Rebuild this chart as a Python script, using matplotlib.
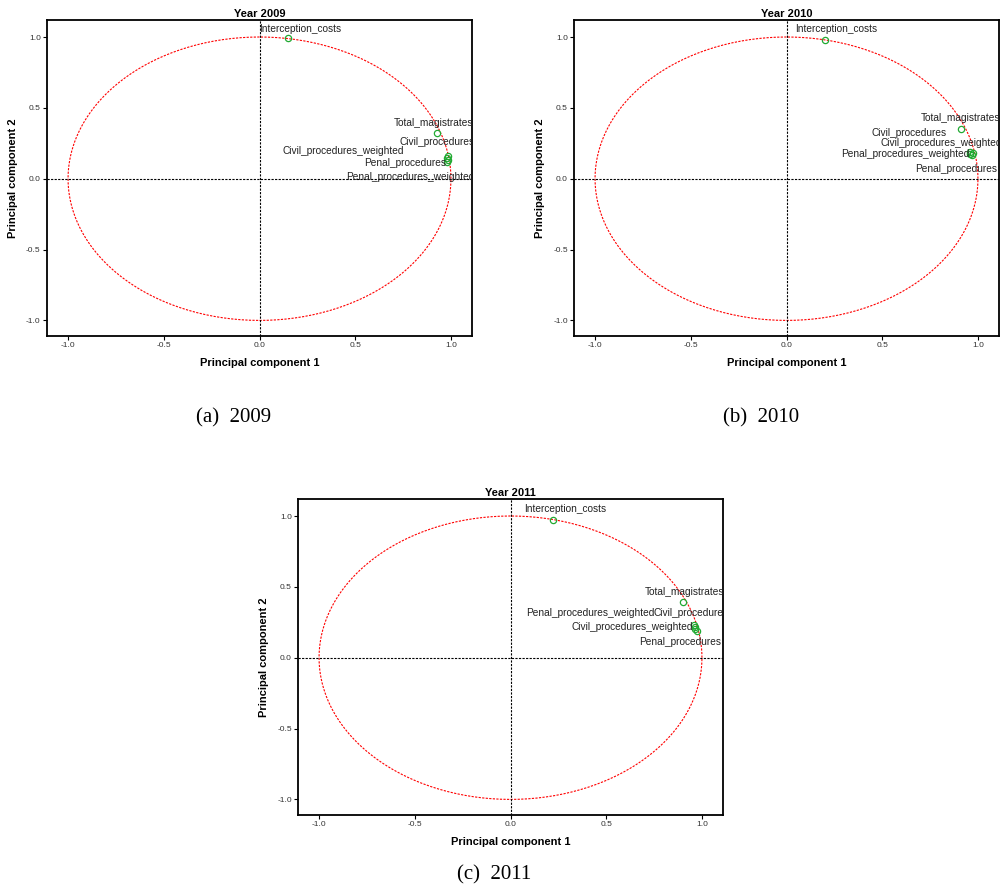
#!/usr/bin/env python3

import matplotlib
matplotlib.use("Agg")
import matplotlib.pyplot as plt
import numpy as np

plt.rcParams['font.family'] = ['Liberation Sans', 'DejaVu Sans']

variables = ["Interception_costs", "Total_magistrates", "Civil_procedures",
             "Civil_procedures_weighted", "Penal_procedures", "Penal_procedures_weighted"]
years = ["2009", "2010", "2011"]
captions = ["(a)  2009", "(b)  2010", "(c)  2011"]

# component loadings, same order as variables
pc1_2009 = [0.15, 0.925, 0.985, 0.98, 0.985, 0.98]
pc2_2009 = [0.99, 0.325, 0.16, 0.145, 0.13, 0.12]
pc1_2010 = [0.20, 0.91, 0.96, 0.975, 0.97, 0.96]
pc2_2010 = [0.98, 0.35, 0.19, 0.18, 0.17, 0.175]
pc1_2011 = [0.22, 0.90, 0.965, 0.965, 0.975, 0.96]
pc2_2011 = [0.975, 0.39, 0.215, 0.20, 0.185, 0.23]

tick_values = [-1.0, -0.5, 0.0, 0.5, 1.0]

# where the variable names sit (data coords, text centre)
label_pos = {
    "2009": [(0.21, 1.06), (0.907, 0.394), (0.93, 0.256), (0.44, 0.197), (0.76, 0.113), (0.79, 0.01)],
    "2010": [(0.262, 1.056), (0.91, 0.425), (0.641, 0.324), (0.808, 0.25), (0.886, 0.071), (0.62, 0.172)],
    "2011": [(0.288, 1.052), (0.91, 0.464), (0.944, 0.312), (0.638, 0.217), (0.885, 0.111), (0.417, 0.312)],
}

W, H = 1000.0, 891.0
# axes boxes in pixels: left, top, right, bottom
boxes = [(47, 20, 472, 336), (574, 20, 999, 336), (298, 499, 723, 815)]
caption_xy = [(234, 418), (761, 418), (494, 875)]


def draw_panel(fig, box, year, pc1, pc2):
    l, t, r, b = box
    ax = fig.add_axes([l / W, 1 - b / H, (r - l) / W, (b - t) / H])
    ax.set_xlim(-1.11, 1.11)
    ax.set_ylim(-1.11, 1.12)

    theta = np.linspace(0, 2 * np.pi, 400)
    ax.plot(np.cos(theta), np.sin(theta), color="red", lw=0.8, ls=(0, (2.0, 1.2)))
    ax.axhline(0, color="black", lw=0.8, ls=(0, (2.0, 1.2)))
    ax.axvline(0, color="black", lw=0.8, ls=(0, (2.0, 1.2)))

    ax.plot(pc1, pc2, ls="none", marker="o", ms=4.5, mfc="none", mec="#22aa33", mew=0.9)
    for name, (lx, ly) in zip(variables, label_pos[year]):
        ax.text(lx, ly, name, ha="center", va="center", fontsize=7.3,
                color="#222222", clip_on=True)

    ax.set_xticks(tick_values)
    ax.set_yticks(tick_values)
    ax.set_xticklabels(["%.1f" % v for v in tick_values])
    ax.set_yticklabels(["%.1f" % v for v in tick_values])
    ax.tick_params(labelsize=6, labelcolor="#333333", length=3, width=0.8, pad=1.5)
    for s in ax.spines.values():
        s.set_linewidth(1.3)
    ax.set_title("Year " + year, fontsize=8, fontweight="bold", pad=2)
    ax.set_xlabel("Principal component 1", fontsize=8, fontweight="bold", labelpad=6)
    ax.set_ylabel("Principal component 2", fontsize=8, fontweight="bold", labelpad=6)
    return ax


def main():
    fig = plt.figure(figsize=(10, 8.91), dpi=100)
    data = [(pc1_2009, pc2_2009), (pc1_2010, pc2_2010), (pc1_2011, pc2_2011)]
    for box, year, (pc1, pc2) in zip(boxes, years, data):
        draw_panel(fig, box, year, pc1, pc2)
    for (cx, cy), cap in zip(caption_xy, captions):
        fig.text(cx / W, 1 - cy / H, cap, ha="center", va="center", fontsize=15,
                 family="Liberation Serif")
    fig.savefig("out.png", dpi=100)


if __name__ == "__main__":
    main()
